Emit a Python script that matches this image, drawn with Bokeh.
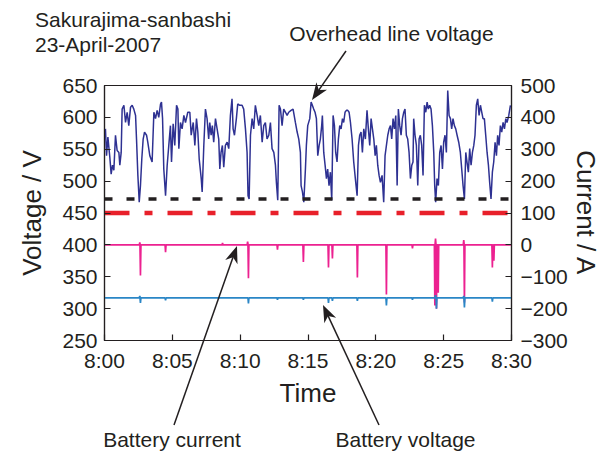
import math
from bokeh.plotting import figure
from bokeh.models import Range1d, LinearAxis, FixedTicker, GridBox, Div
from bokeh.embed import file_html
from bokeh.resources import INLINE

# ---------------- data (minutes after 8:00) ----------------
time_ticks = [0, 5, 10, 15, 20, 25, 30]
time_tick_labels = ["8:00", "8:05", "8:10", "8:15", "8:20", "8:25", "8:30"]
voltage_ticks = [250, 300, 350, 400, 450, 500, 550, 600, 650]
current_ticks = [-300, -200, -100, 0, 100, 200, 300, 400, 500]
current_tick_labels = ["\u2212300", "\u2212200", "\u2212100", "0", "100", "200", "300", "400", "500"]

# Overhead line voltage (V)
ohv_t = [0.07, 0.15, 0.25, 0.39, 0.49, 0.59, 0.69, 0.81, 0.93, 1.06,
         1.13, 1.23, 1.30, 1.43, 1.55, 1.67, 1.79, 1.92, 2.04, 2.16,
         2.29, 2.36, 2.46, 2.56, 2.65, 2.75, 2.85, 2.95, 3.10, 3.19,
         3.34, 3.51, 3.64, 3.76, 3.88, 4.00, 4.13, 4.20, 4.28, 4.37,
         4.50, 4.62, 4.74, 4.86, 4.94, 5.06, 5.18, 5.31, 5.41, 5.48,
         5.60, 5.72, 5.85, 5.97, 6.14, 6.29, 6.39, 6.54, 6.66, 6.78,
         6.88, 6.98, 7.13, 7.20,
         7.32, 7.44, 7.56, 7.68, 7.76, 7.86, 7.95, 8.05, 8.18, 8.30,
         8.42, 8.50, 8.59, 8.69, 8.79, 8.91, 9.04, 9.16, 9.28, 9.40,
         9.48, 9.58, 9.72, 9.82, 9.97, 10.14, 10.26, 10.39, 10.51, 10.58,
         10.66, 10.76, 10.88, 11.00, 11.12, 11.25, 11.37, 11.49, 11.62, 11.74,
         11.86, 11.98, 12.11, 12.23, 12.35, 12.48, 12.60, 12.67, 12.77, 12.87,
         12.97, 13.09, 13.21, 13.34, 13.46, 13.58, 13.75, 13.90, 14.07, 14.20,
         14.32, 14.44, 14.49, 14.59, 14.69,
         14.81, 14.88, 14.98, 15.13, 15.23, 15.32, 15.42, 15.52, 15.62, 15.72,
         15.82, 15.91, 16.01, 16.06, 16.16, 16.26, 16.36, 16.45, 16.55, 16.65,
         16.75, 16.85, 16.95, 17.04, 17.14, 17.24, 17.34, 17.44, 17.54, 17.63,
         17.73, 17.83, 17.93, 18.03, 18.13, 18.25, 18.37, 18.49, 18.62, 18.72,
         18.81, 18.91, 19.01, 19.11, 19.23, 19.35, 19.45, 19.55, 19.65, 19.75,
         19.85, 19.95, 20.04, 20.14, 20.24, 20.34, 20.46, 20.58, 20.68, 20.78,
         20.88, 20.98, 21.08, 21.17, 21.27, 21.37, 21.47, 21.57, 21.66, 21.76,
         21.86, 21.96, 22.06,
         22.15, 22.25, 22.35, 22.45, 22.55, 22.65, 22.74, 22.79, 22.89, 22.99,
         23.09, 23.19, 23.28, 23.38, 23.48, 23.58, 23.68, 23.78, 23.87, 23.97,
         24.07, 24.17, 24.27, 24.34, 24.41, 24.51, 24.61, 24.71, 24.81, 24.91,
         25.00, 25.10, 25.20, 25.30, 25.40, 25.50, 25.59, 25.69, 25.79, 25.89,
         25.99, 26.11, 26.23, 26.33, 26.43, 26.53, 26.63, 26.72, 26.82, 26.92,
         27.02, 27.12, 27.22, 27.31, 27.41, 27.51, 27.61, 27.71, 27.81, 27.90,
         28.00, 28.10, 28.20, 28.30, 28.39, 28.49, 28.59, 28.69, 28.79, 28.89,
         28.98, 29.08, 29.18, 29.28, 29.38, 29.48, 29.58, 29.67, 29.80, 29.92]
ohv_v = [582, 540, 569, 538, 511, 525, 517, 572, 548, 545,
         525, 545, 613, 619, 592, 608, 587, 616, 619, 613,
         603, 566, 509, 467, 493, 535, 566, 577, 572, 561,
         540, 530, 608, 598, 611, 600, 621, 624, 598, 519,
         477, 525, 556, 587, 530, 590, 556, 619, 613, 551,
         592, 582, 603, 592, 608, 608, 572, 592, 556, 598,
         577, 535, 504, 483,
         556, 613, 598, 566, 592, 572, 587, 561, 598, 582,
         566, 519, 545, 556, 522, 556, 561, 551, 603, 629,
         582, 572, 598, 621, 619, 619, 613, 582, 545, 477,
         472, 572, 598, 582, 619, 603, 587, 603, 561, 587,
         592, 566, 572, 592, 551, 545, 525, 498, 470, 619,
         613, 587, 613, 608, 603, 608, 611, 613, 592, 577,
         566, 545, 493, 483, 467,
         519, 556, 587, 598, 624, 619, 613, 608, 598, 540,
         556, 566, 587, 603, 545, 525, 504, 519, 493, 514,
         470, 603, 587, 545, 530, 566, 587, 582, 598, 592,
         608, 611, 611, 608, 592, 566, 530, 504, 477, 556,
         572, 577, 545, 582, 566, 611, 582, 556, 598, 582,
         566, 540, 556, 525, 509, 498, 509, 467, 540, 556,
         572, 582, 587, 566, 598, 582, 603, 493, 613, 587,
         572, 598, 608,
         613, 572, 566, 545, 504, 525, 530, 598, 572, 556,
         493, 566, 572, 556, 509, 619, 608, 624, 613, 619,
         613, 587, 545, 493, 467, 504, 493, 545, 556, 519,
         561, 572, 545, 642, 603, 598, 582, 598, 587, 582,
         572, 561, 545, 519, 493, 472, 545, 530, 514, 551,
         525, 545, 556, 572, 619, 629, 603, 619, 608, 598,
         598, 572, 545, 525, 498, 472, 514, 530, 561, 540,
         572, 556, 587, 577, 592, 582, 598, 592, 603, 619]

# Reference (dashed) levels
ref_t = [0, 30]
black_level = [472, 472]
red_level = [450, 450]

# Battery current (A): baseline 0 with spikes at these times
bc_base = 0
bc_spike_t = [2.60, 2.65, 4.50, 8.70, 10.55, 10.61, 12.75, 14.66, 16.51, 16.80,
              18.64, 20.78, 22.70, 24.35, 24.40, 24.47, 24.60, 26.48, 26.53, 28.59, 28.70]
bc_spike_i = [8, -96, -23, 6, 10, -105, -15, -54, -71, -43,
              -102, -156, -11, -190, 20, -200, -150, 15, -181, -71, -50]

# Battery voltage (V): baseline ~317 V with small dips
bv_base = 317
bv_spike_t = [2.60, 2.65, 4.50, 10.61, 12.75, 14.66, 16.51, 16.80, 18.64, 20.78,
              22.70, 24.40, 24.47, 26.48, 26.53, 28.59]
bv_spike_v = [320, 309, 313, 308, 314, 314, 309, 312, 312, 305,
              314, 321, 300, 320, 302, 311]


def spiky(base, ts, vals, w=0.035):
    xs, ys = [0.0], [base]
    for t, v in zip(ts, vals):
        xs += [t - w, t, t + w]
        ys += [base, v, base]
    xs.append(30.0)
    ys.append(base)
    return xs, ys


bc_x, bc_y = spiky(bc_base, bc_spike_t, bc_spike_i)
bv_x, bv_y = spiky(bv_base, bv_spike_t, bv_spike_v)

# ---------------- main figure ----------------
FONT = "Liberation Sans"
TXT = "#231f20"
W, H = 607, 452
FL, FT, FW, FH = 104, 85, 407, 255          # frame box in canvas pixels

p = figure(frame_width=FW, frame_height=FH, output_backend="svg", toolbar_location=None,
           x_range=Range1d(0, 30), y_range=Range1d(250, 650),
           min_border_left=FL, min_border_right=W - FL - FW, min_border_top=FT,
           min_border_bottom=H - FT - FH)
p.extra_y_ranges = {"cur": Range1d(-300, 500)}
p.grid.visible = False
p.outline_line_color = TXT
p.outline_line_width = 1.2
p.background_fill_color = "white"
p.border_fill_color = "white"

ax_r = LinearAxis(y_range_name="cur")
p.add_layout(ax_r, "right")

p.xaxis.ticker = FixedTicker(ticks=time_ticks)
p.xaxis.major_label_overrides = {t: s for t, s in zip(time_ticks, time_tick_labels)}
p.yaxis[0].ticker = FixedTicker(ticks=voltage_ticks)
ax_r.ticker = FixedTicker(ticks=current_ticks)
ax_r.major_label_overrides = {t: s for t, s in zip(current_ticks, current_tick_labels)}

p.xaxis.axis_label = "Time"
p.yaxis[0].axis_label = "Voltage / V"
ax_r.axis_label = "Current / A"

for ax in [p.xaxis[0], p.yaxis[0], ax_r]:
    ax.major_tick_in = 6
    ax.major_tick_out = 0
    ax.minor_tick_in = 0
    ax.minor_tick_out = 0
    ax.axis_line_color = TXT
    ax.axis_line_width = 1.2
    ax.major_tick_line_color = TXT
    ax.major_tick_line_width = 1.2
    ax.major_label_text_font = FONT
    ax.major_label_text_font_size = "21px"
    ax.major_label_text_color = TXT
    ax.axis_label_text_font = FONT
    ax.axis_label_text_font_size = "26px"
    ax.axis_label_text_font_style = "normal"
    ax.axis_label_text_color = TXT

p.xaxis.major_label_standoff = 8
p.xaxis.axis_label_standoff = 3
p.yaxis[0].major_label_standoff = 7
p.yaxis[0].axis_label_standoff = 12
ax_r.major_label_standoff = 9
ax_r.axis_label_standoff = 0

p.line(ohv_t, ohv_v, line_color="#2e3192", line_width=1.5)
p.line(ref_t, black_level, line_color=TXT, line_width=3.5, line_dash="8 14")
p.line(ref_t, red_level, line_color="#e8202a", line_width=4.5, line_dash="25 15 8 15")
p.line(bc_x, bc_y, y_range_name="cur", line_color="#ec2190", line_width=1.7)
p.line(bv_x, bv_y, line_color="#2a86c6", line_width=1.7)

# ---------------- callouts: transparent SVG layer over the plot (canvas px) ----------------
callout_texts = [
    (35, 27, "start", "Sakurajima-sanbashi"),
    (35, 52, "start", "23-April-2007"),
    (391.5, 41, "middle", "Overhead line voltage"),
    (172, 447, "middle", "Battery current"),
    (405.5, 447, "middle", "Battery voltage"),
]
callout_arrows = [
    (346, 51, 312, 100),
    (174, 425, 237, 246),
    (379, 425, 323, 305),
]

parts = []
for x, y, anchor, s in callout_texts:
    parts.append(f'<text x="{x}" y="{y}" text-anchor="{anchor}" font-family="{FONT}" '
                 f'font-size="21px" fill="{TXT}">{s}</text>')
HL, HW, NOTCH = 17, 6.5, 5
for x0, y0, x1, y1 in callout_arrows:
    L = math.hypot(x1 - x0, y1 - y0)
    ux, uy = (x1 - x0) / L, (y1 - y0) / L
    nx, ny = -uy, ux
    bx, by = x1 - HL * ux, y1 - HL * uy
    qx, qy = x1 - (HL - NOTCH) * ux, y1 - (HL - NOTCH) * uy
    parts.append(f'<line x1="{x0}" y1="{y0}" x2="{qx:.1f}" y2="{qy:.1f}" '
                 f'stroke="{TXT}" stroke-width="1.5"/>')
    pts = [(x1, y1), (bx + HW * nx, by + HW * ny), (qx, qy), (bx - HW * nx, by - HW * ny)]
    parts.append('<polygon points="' + " ".join(f"{a:.1f},{b:.1f}" for a, b in pts)
                 + f'" fill="{TXT}"/>')

svg = (f'<svg xmlns="http://www.w3.org/2000/svg" width="{W}" height="{H}" '
       f'style="display:block;position:absolute;left:0;top:0">' + "".join(parts) + "</svg>")
overlay = Div(text=svg, width=W, height=H,
              styles={"padding": "0px", "margin": "0px", "pointer-events": "none"})

layout = GridBox(children=[(p, 0, 0), (overlay, 0, 0)])
open("out.html", "w").write(file_html(layout, INLINE))
